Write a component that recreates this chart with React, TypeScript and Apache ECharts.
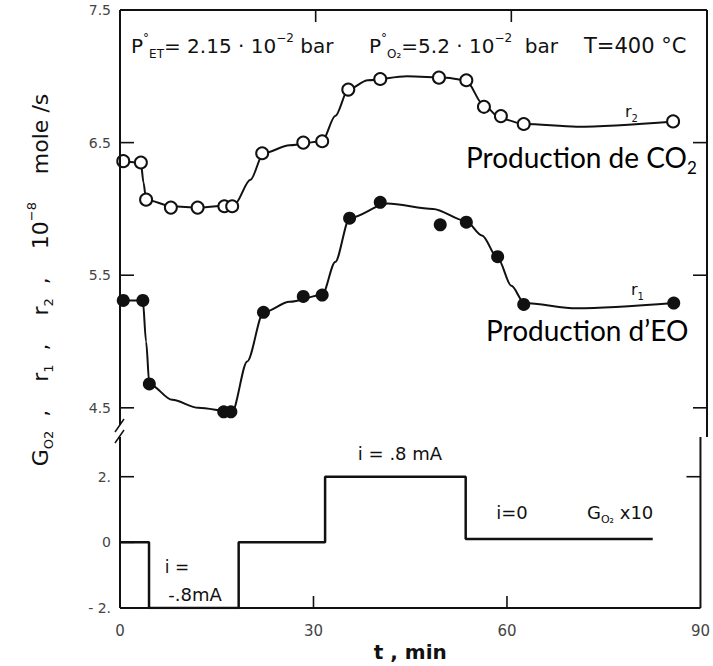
import React, { useEffect, useRef } from "react";
import * as echarts from "echarts";

// r2 (CO2 production) measured points, open circles
const r2PointsT = [0.5, 3.2, 4.0, 7.8, 11.9, 16.0, 17.2, 21.8, 28.1, 31.0, 35.0, 39.9, 48.9, 53.1, 55.8, 58.4, 61.9, 84.8];
const r2PointsV = [6.36, 6.35, 6.07, 6.01, 6.01, 6.02, 6.02, 6.42, 6.5, 6.51, 6.9, 6.98, 6.99, 6.97, 6.77, 6.7, 6.64, 6.66];
// r2 fitted curve
const r2CurveT = [0.3, 3.2, 3.6, 4.0, 8, 12, 17.5, 20, 22, 26, 31, 33, 35, 38, 44, 50, 53, 55.8, 58.4, 62, 70, 85];
const r2CurveV = [6.36, 6.35, 6.2, 6.07, 6.02, 6.01, 6.03, 6.22, 6.42, 6.48, 6.51, 6.7, 6.9, 6.97, 7.0, 6.99, 6.97, 6.78, 6.68, 6.64, 6.62, 6.66];

// r1 (EO production) measured points, filled circles
const r1PointsT = [0.5, 3.5, 4.5, 15.9, 17.0, 22.0, 28.1, 31.0, 35.2, 39.9, 49.1, 53.1, 57.9, 61.9, 84.9];
const r1PointsV = [5.31, 5.31, 4.68, 4.47, 4.47, 5.22, 5.34, 5.35, 5.93, 6.05, 5.88, 5.9, 5.64, 5.28, 5.29];
// r1 fitted curve
const r1CurveT = [0.3, 3.5, 4.0, 4.5, 8, 12, 17.2, 19.5, 22, 26, 31, 33, 35.2, 41, 48, 53, 55.5, 58, 60, 62, 70, 85];
const r1CurveV = [5.31, 5.31, 5.0, 4.68, 4.56, 4.5, 4.47, 4.85, 5.22, 5.3, 5.35, 5.6, 5.93, 6.04, 6.0, 5.91, 5.8, 5.62, 5.42, 5.29, 5.25, 5.29];

// G_O2 x10 step signal
const gT = [0, 4.5, 18.4, 31.8, 53.6, 82.6];
const gV = [0, -2, 0, 2, 0.1, 0.1];

// axis ranges and tick labels
const X_MIN = 0;
const X_MAX = 90;
const UP_MIN = 4.28;
const UP_MAX = 7.5;
const LOW_MIN = -2;
const LOW_MAX = 3.21;
const xTickMarks = [30, 60];
const upperTicks = [4.5, 5.5, 6.5, 7.5];
const upperRightTicks = [4.5, 5.5, 6.5];
const lowerTicks = [-2, 0, 2];
const lowerRightTicks = [2];

const zip = (a: number[], b: number[]) => a.map((v, i) => [v, b[i]]);

const INK = "#111";
const SCAN_FONT = "DejaVu Sans";

export default function App() {
  const ref = useRef<HTMLDivElement>(null);
  useEffect(() => {
    if (!ref.current) return;
    const chart = echarts.init(ref.current, null, { renderer: "svg" });
    const label = { color: "#444", fontSize: 14, fontFamily: SCAN_FONT };
    const subRich = (size: number) => ({
      n: { fontSize: size, fontFamily: SCAN_FONT, fill: INK, lineHeight: size + 8 },
      s: { fontSize: Math.round(size * 0.6), fontFamily: SCAN_FONT, fill: INK, verticalAlign: "bottom", lineHeight: Math.round(size * 0.6) },
      p: { fontSize: Math.round(size * 0.6), fontFamily: SCAN_FONT, fill: INK, verticalAlign: "top", lineHeight: Math.round(size * 0.6) },
    });
    const txt = (x: number, y: number, text: string, size: number, align = "left") => ({
      type: "text",
      x,
      y,
      z: 100,
      style: {
        text,
        rich: subRich(size),
        font: `${size}px ${SCAN_FONT}`,
        fill: INK,
        align,
        textAlign: align,
        verticalAlign: "middle",
        textVerticalAlign: "middle",
      },
    });
    const hidden = { show: false };
    const TL = 14;
    const frameStyle = { stroke: INK, lineWidth: 2 };
    const tickStyle = { stroke: INK, lineWidth: 1.6 };
    const ln = (a: number[], b: number[], style: any = frameStyle) => ({
      type: "line", shape: { x1: a[0], y1: a[1], x2: b[0], y2: b[1] }, style,
    });

    // frame of the upper panel, drawn through the panel's own scales
    const upperFrame = (_p: any, api: any) => {
      const c = (x: number, y: number) => api.coord([x, y]);
      const tl = c(X_MIN, UP_MAX);
      const tr = c(X_MAX, UP_MAX);
      const bl = c(X_MIN, UP_MIN);
      const br = c(X_MAX, UP_MIN);
      const children: any[] = [
        ln(tl, [bl[0], bl[1] - 12]),
        ln(tl, tr),
        ln(tr, br),
        ln([bl[0] - 5, bl[1] - 5], [bl[0] + 4, bl[1] - 18], { stroke: INK, lineWidth: 1.5 }),
        ln([bl[0] - 5, bl[1] + 6], [bl[0] + 4, bl[1] - 7], { stroke: INK, lineWidth: 1.5 }),
      ];
      upperTicks.forEach((v) => {
        const p = c(X_MIN, v);
        children.push(ln(p, [p[0] + TL, p[1]], tickStyle));
      });
      upperRightTicks.forEach((v) => {
        const p = c(X_MAX, v);
        children.push(ln(p, [p[0] - TL, p[1]], tickStyle));
      });
      xTickMarks.forEach((v) => {
        const p = c(v, UP_MAX);
        children.push(ln(p, [p[0], p[1] + TL - 2], tickStyle));
      });
      return { type: "group", children };
    };
    // frame of the lower panel
    const lowerFrame = (_p: any, api: any) => {
      const c = (x: number, y: number) => api.coord([x, y]);
      const tl = c(X_MIN, LOW_MAX);
      const tr = c(X_MAX, LOW_MAX);
      const bl = c(X_MIN, LOW_MIN);
      const br = c(X_MAX, LOW_MIN);
      const children: any[] = [ln(tl, bl), ln(bl, br), ln(tr, br)];
      lowerTicks.forEach((v) => {
        const p = c(X_MIN, v);
        children.push(ln(p, [p[0] + TL, p[1]], tickStyle));
      });
      lowerRightTicks.forEach((v) => {
        const p = c(X_MAX, v);
        children.push(ln(p, [p[0] - TL, p[1]], tickStyle));
      });
      xTickMarks.forEach((v) => {
        const p = c(v, LOW_MIN);
        children.push(ln(p, [p[0], p[1] - TL + 2], tickStyle));
      });
      return { type: "group", children };
    };

    const option: any = {
      animation: false,
      backgroundColor: "#fff",
      grid: [
        { left: 120, right: 6, top: 10, height: 427 },
        { left: 120, right: 6, top: 437, height: 171 },
      ],
      xAxis: [
        {
          gridIndex: 0, type: "value", min: X_MIN, max: X_MAX, interval: 30, position: "top",
          axisLine: hidden, axisTick: hidden, axisLabel: hidden, splitLine: hidden,
        },
        {
          gridIndex: 1, type: "value", min: X_MIN, max: X_MAX, interval: 30, position: "bottom",
          axisLine: { show: false, onZero: false }, axisTick: hidden,
          axisLabel: { ...label, fontSize: 15, margin: 15 }, splitLine: hidden,
          name: "t , min", nameLocation: "middle", nameGap: 34,
          nameTextStyle: { fontSize: 20, fontWeight: "bold", color: INK, fontFamily: SCAN_FONT },
        },
      ],
      yAxis: [
        {
          gridIndex: 0, type: "value", min: UP_MIN, max: UP_MAX, position: "left",
          axisLine: { show: false, onZero: false }, axisTick: hidden,
          axisLabel: { ...label, margin: 9, customValues: upperTicks, formatter: (v: number) => v.toFixed(1) },
          splitLine: hidden,
        },
        {
          gridIndex: 1, type: "value", min: LOW_MIN, max: LOW_MAX, position: "left",
          axisLine: { show: false, onZero: false }, axisTick: hidden,
          axisLabel: {
            ...label, margin: 9, customValues: lowerTicks,
            formatter: (v: number) => (v === 0 ? "0" : v > 0 ? `${v}.` : `- ${-v}.`),
          },
          splitLine: hidden,
        },
      ],
      series: [
        {
          type: "custom", xAxisIndex: 0, yAxisIndex: 0, data: [[X_MIN, UP_MIN]],
          renderItem: upperFrame, clip: false, silent: true, z: 10,
        },
        {
          type: "custom", xAxisIndex: 1, yAxisIndex: 1, data: [[X_MIN, LOW_MIN]],
          renderItem: lowerFrame, clip: false, silent: true, z: 10,
        },
        {
          type: "line", xAxisIndex: 0, yAxisIndex: 0, data: zip(r2CurveT, r2CurveV),
          smooth: 0.3, smoothMonotone: "x", showSymbol: false, lineStyle: { color: INK, width: 2 }, z: 2,
        },
        {
          type: "scatter", xAxisIndex: 0, yAxisIndex: 0, data: zip(r2PointsT, r2PointsV),
          symbol: "circle", symbolSize: 12, itemStyle: { color: "#fff", borderColor: INK, borderWidth: 2, opacity: 1 }, z: 3,
        },
        {
          type: "line", xAxisIndex: 0, yAxisIndex: 0, data: zip(r1CurveT, r1CurveV),
          smooth: 0.3, smoothMonotone: "x", showSymbol: false, lineStyle: { color: INK, width: 2 }, z: 2,
        },
        {
          type: "scatter", xAxisIndex: 0, yAxisIndex: 0, data: zip(r1PointsT, r1PointsV),
          symbol: "circle", symbolSize: 13, itemStyle: { color: INK, opacity: 1 }, z: 3,
        },
        {
          type: "line", xAxisIndex: 1, yAxisIndex: 1, data: zip(gT, gV), step: "end",
          showSymbol: false, lineStyle: { color: INK, width: 2.5 }, z: 2,
        },
      ],
      graphic: [
        // y title (rotated)
        {
          type: "text", x: 40, y: 280, rotation: Math.PI / 2, z: 100,
          style: {
            text: "{n|G}{s|O2}{n|  ,    r}{s|1}{n|  ,    r}{s|2}{n|  ,    10}{p|−8}{n|    mole /s}",
            rich: subRich(22), fill: INK, align: "center", textAlign: "center",
            verticalAlign: "middle", textVerticalAlign: "middle",
          },
        },
        // conditions
        txt(131, 46, "{n|P}{p|°}{s|ET}{n|= 2.15 · 10}{p|−2}{n| bar}", 20),
        txt(369, 46, "{n|P}{p|°}{s|O₂}{n|=5.2 · 10}{p|−2}{n|  bar}", 20),
        txt(584, 46, "T=400 °C", 21),
        // curve labels
        txt(625, 111, "{n|r}{s|2}", 16),
        txt(631, 289, "{n|r}{s|1}", 16),
        // annotations (French)
        {
          type: "text", x: 466, y: 157, z: 100,
          style: {
            text: "{n|Production de CO}{s|2}",
            rich: {
              n: { fontSize: 28, fontFamily: "Lato", fill: "#000", lineHeight: 38 },
              s: { fontSize: 17, fontFamily: "Lato", fill: "#000", verticalAlign: "bottom", lineHeight: 17 },
            },
            align: "left", textAlign: "left", verticalAlign: "middle", textVerticalAlign: "middle",
          },
        },
        {
          type: "text", x: 486, y: 330, z: 100,
          style: {
            text: "Production d’EO", font: "28px Lato", fill: "#000",
            align: "left", textAlign: "left", verticalAlign: "middle", textVerticalAlign: "middle",
          },
        },
        // current annotations
        txt(400, 453, "i = .8 mA", 18, "center"),
        txt(512, 512, "i=0", 18, "center"),
        txt(587, 512, "{n|G}{s|O₂}{n| x10}", 18),
        txt(177, 567, "i =", 17, "center"),
        txt(195, 594, "-.8mA", 18, "center"),
      ],
    };
    chart.setOption(option);
    return () => chart.dispose();
  }, []);
  return (
    <div
      ref={ref}
      style={{ position: "fixed", left: 0, top: 0, width: 713, height: 666, background: "#fff" }}
    />
  );
}
